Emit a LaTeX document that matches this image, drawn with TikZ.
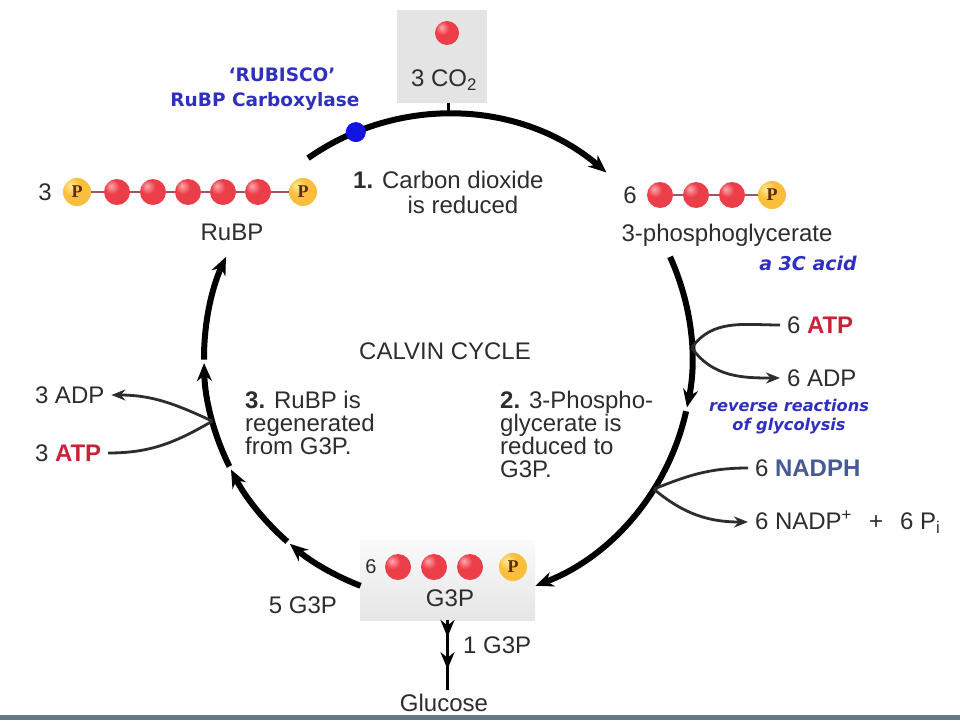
\documentclass[tikz,border=0pt]{standalone}
\usepackage{fontspec}
\setmainfont{Liberation Sans}
\newfontfamily\pfont{Liberation Serif}
\newfontfamily\dvb{DejaVu Sans}
\usetikzlibrary{arrows.meta,decorations.markings}
\definecolor{txtgray}{RGB}{45,45,45}
\definecolor{ballred}{RGB}{236,62,72}
\definecolor{ballhi}{RGB}{252,170,175}
\definecolor{ballrim}{RGB}{185,35,45}
\definecolor{pmid}{RGB}{250,190,60}
\definecolor{phi}{RGB}{255,235,150}
\definecolor{prim}{RGB}{225,130,30}
\definecolor{pbrown}{RGB}{95,45,10}
\definecolor{bondcol}{RGB}{160,85,95}
\definecolor{boxgray}{RGB}{228,228,228}
\definecolor{barcol}{RGB}{100,120,135}
\definecolor{rubblue}{RGB}{48,48,190}
\definecolor{enzblue}{RGB}{20,20,225}
\definecolor{atpred}{RGB}{200,35,55}
\definecolor{nadblue}{RGB}{70,90,150}
\pgfdeclareradialshading{redsph}{\pgfpoint{-12bp}{12bp}}{color(0bp)=(ballhi); color(14bp)=(ballred); color(40bp)=(ballred); color(58bp)=(ballrim); color(80bp)=(ballrim)}
\pgfdeclareradialshading{orsph}{\pgfpoint{-12bp}{12bp}}{color(0bp)=(phi); color(16bp)=(pmid); color(40bp)=(pmid); color(58bp)=(prim); color(80bp)=(prim)}
\tikzset{
  txt/.style={font=\fontsize{24}{23}\selectfont, text=txtgray, inner sep=0pt},
  lbl/.style={txt, outer sep=7pt},
  bluebold/.style={font=\dvb\bfseries\fontsize{18.5}{19}\selectfont, text=rubblue, inner sep=0pt},
  bluebi/.style={font=\dvb\bfseries\itshape\fontsize{16.2}{19}\selectfont, text=rubblue, inner sep=0pt},
  rball/.style={circle, minimum size=26pt, inner sep=0pt, shade, shading=redsph},
  pball/.style={circle, minimum size=28pt, inner sep=0pt, shade, shading=orsph,
     font=\pfont\bfseries\fontsize{18}{18}\selectfont, text=pbrown},
  cyc/.style={line width=6pt, black, -{Stealth[length=18pt,width=15pt]}},
  branch/.style={line width=2.8pt, txtgray},
  brarrow/.style={branch, -{Stealth[length=14pt,width=11pt]}},
  bond/.style={line width=1.5pt, bondcol},
  greybox/.style={fill=boxgray, draw=none, inner sep=0pt},
  g3pbox/.style={top color=gray!4, bottom color=gray!20, draw=none, inner sep=0pt},
  garrow/.style={line width=3pt, black, postaction={decorate},
     decoration={markings,
       mark=at position 0.24 with {\arrow{Stealth[length=17pt,width=14pt]}},
       mark=at position 0.70 with {\arrow{Stealth[length=17pt,width=14pt]}}}},
}
\begin{document}
\begin{tikzpicture}[x=1pt,y=1pt]
\useasboundingbox (0,0) rectangle (960,-720);
\fill[white] (0,0) rectangle (960,-720);
\fill[barcol] (0,-715) rectangle (960,-720);
\coordinate (O) at (448,-358);

% boxes
\node[greybox, minimum width=90pt, minimum height=93pt] (co2box) at (442,-56) {};
\node[g3pbox, minimum width=175pt, minimum height=80pt] (g3pbox) at (447.5,-580) {};

% cycle coordinates
\coordinate (topS) at ([shift={(O)}]125:244);
\coordinate (ctop) at ([shift={(O)}]90:244);
\coordinate (rS) at ([shift={(O)}]24.5:244);
\coordinate (rM) at ([shift={(O)}]-12.6:244);
\coordinate (lS) at ([shift={(O)}]-111:244);
\coordinate (l2) at ([shift={(O)}]-131.2:244);
\coordinate (l3) at ([shift={(O)}]-153.6:244);
\coordinate (l4) at ([shift={(O)}]-179.6:244);
\coordinate (enz) at ([shift={(O)}]112.2:244);
\coordinate (bATP) at ([shift={(O)}]2.4:244);
\coordinate (bNAD) at ([shift={(O)}]-32.5:244);
\coordinate (bL) at ([shift={(O)}]-165:244);

% cycle arcs
\draw[cyc] (topS) arc[start angle=125, end angle=49.5, radius=244pt];
\draw[cyc] (rS) arc[start angle=24.5, end angle=-11.7, radius=244pt];
\draw[cyc] (rM) arc[start angle=-12.6, end angle=-69, radius=244pt];
\draw[cyc] (lS) arc[start angle=-111, end angle=-130.4, radius=244pt];
\draw[cyc] (l2) arc[start angle=-131.2, end angle=-152.8, radius=244pt];
\draw[cyc] (l3) arc[start angle=-153.6, end angle=-178.8, radius=244pt];
\draw[cyc] (l4) arc[start angle=-179.6, end angle=-204.5, radius=244pt];

% CO2 input
\draw[line width=3pt] (co2box.south -| ctop) -- (ctop);
\node[rball, minimum size=24pt] (co2ball) at (447,-33) {};
\node[txt] (co2t) at (444,-80) {3 CO\textsubscript{2}};

% enzyme
\node[circle, fill=enzblue, minimum size=20pt, inner sep=0pt] (enzdot) at (enz) {};
\node[bluebold] (rub1) at (282,-75) {‘RUBISCO’};
\node[bluebold] (rub2) at (265,-101) {RuBP Carboxylase};

% RuBP chain
\node[txt] (n3) at (45,-192) {3};
\node[pball] (rp1) at (77,-192) {P};
\node[rball] (rr1) at (117,-192) {};
\node[rball] (rr2) at (153,-192) {};
\node[rball] (rr3) at (188,-192) {};
\node[rball] (rr4) at (223,-192) {};
\node[rball] (rr5) at (258,-192) {};
\node[pball] (rp2) at (303,-192) {P};
\draw[bond] (rp1) -- (rr1); \draw[bond] (rr1) -- (rr2); \draw[bond] (rr2) -- (rr3);
\draw[bond] (rr3) -- (rr4); \draw[bond] (rr4) -- (rr5); \draw[bond] (rr5) -- (rp2);
\node[txt] (rubpt) at (232,-232) {RuBP};

% 3-phosphoglycerate chain
\node[txt] (n6a) at (630,-195) {6};
\node[rball] (pr1) at (660,-195) {};
\node[rball] (pr2) at (696,-195) {};
\node[rball] (pr3) at (732,-195) {};
\node[pball] (pp1) at (772,-195) {P};
\draw[bond] (pr1) -- (pr2); \draw[bond] (pr2) -- (pr3); \draw[bond] (pr3) -- (pp1);
\node[txt] (pgt) at (727,-235) {3-phosphoglycerate};
\node[bluebi, font=\dvb\bfseries\itshape\fontsize{19}{19}\selectfont] (c3) at (808,-263) {a 3C acid};

% G3P chain
\node[txt, font=\fontsize{20}{20}\selectfont] (n6b) at (371,-567) {6};
\node[rball] (gr1) at (398,-567) {};
\node[rball] (gr2) at (434,-567) {};
\node[rball] (gr3) at (470,-567) {};
\node[pball] (gp1) at (513,-567) {P};
\node[txt] (g3pt) at (450,-598) {G3P};

% central texts
\node[txt, anchor=west] (s1) at (353,-180) {\textbf{1.} Carbon dioxide};
\node[txt] (s1b) at (463,-205) {is reduced};
\node[txt] (calvin) at (445,-351) {CALVIN CYCLE};
\node[txt, align=left, anchor=north west] (s3) at (245,-391) {\textbf{3.} RuBP is\\regenerated\\from G3P.};
\node[txt, align=left, anchor=north west] (s2) at (500,-391) {\textbf{2.} 3-Phospho-\\glycerate is\\reduced to\\G3P.};

% right side branches
\node[lbl, anchor=west] (atp6) at (780,-325) {6 \textcolor{atpred}{\textbf{ATP}}};
\node[lbl, anchor=west] (adp6) at (780,-378) {6 ADP};
\node[bluebi, align=center] (rev) at (789,-417) {reverse reactions\\of glycolysis};
\node[lbl, anchor=west] (nadph) at (748,-468) {6 \textcolor{nadblue}{\textbf{NADPH}}};
\node[lbl, anchor=west] (nadp) at (748,-522) {6 NADP\textsuperscript{+}\hspace{17pt}+\hspace{17pt}6 P\textsubscript{i}};
\draw[branch] (atp6) to[out=180, in=55] (bATP);
\draw[brarrow] (bATP) to[out=-55, in=180] (adp6);
\draw[branch] (nadph) to[out=180, in=22] (bNAD);
\draw[brarrow] (bNAD) to[out=-40, in=180] (nadp);

% left side branches
\node[lbl, anchor=west] (adp3) at (28,-395) {3 ADP};
\node[lbl, anchor=west] (atp3) at (28,-453) {3 \textcolor{atpred}{\textbf{ATP}}};
\draw[brarrow] (bL) to[out=155, in=0] (adp3);
\draw[branch] (atp3) to[out=0, in=-150] (bL);

% outputs
\node[txt] (g5) at (303,-605) {5 G3P};
\node[txt, outer sep=4pt] (glu) at (444,-703) {Glucose};
\node[txt, anchor=west] (g1) at (463,-645) {1 G3P};
\draw[garrow] (g3pbox.south) -- (g3pbox.south |- glu.north);
\end{tikzpicture}
\end{document}
